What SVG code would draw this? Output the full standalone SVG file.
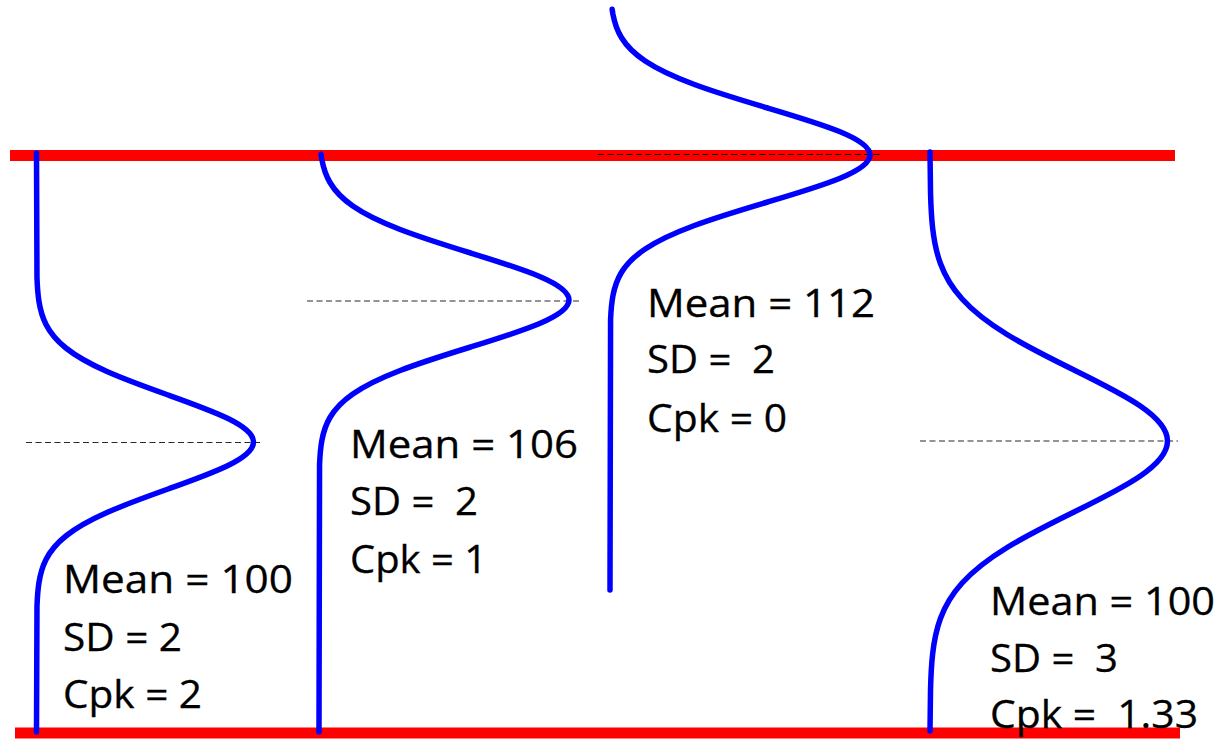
<svg xmlns="http://www.w3.org/2000/svg" width="1227" height="739" viewBox="0 0 1227 739">
<style>
.limit{stroke:#ff0000;stroke-width:11;fill:none}
.mean{stroke:#2a2a2a;stroke-width:1.2;stroke-dasharray:6 3.5;fill:none}
.dist{stroke:#0000ff;stroke-width:5.5;fill:none;stroke-linecap:round;stroke-linejoin:round;vector-effect:non-scaling-stroke}
.lbl{font-family:"Open Sans","Liberation Sans",sans-serif;font-size:38px;fill:#000;white-space:pre;stroke:#000;stroke-width:0.3}
</style>
<rect width="1227" height="739" fill="#fff"/>
<g id="limits">
<line class="limit" x1="10" y1="155.5" x2="1175" y2="155.5"/>
<line class="limit" x1="15" y1="733" x2="1180" y2="733"/>
</g>
<g id="connectors">
<line class="mean" x1="26" y1="442.5" x2="263" y2="442.5"/>
<line class="mean" x1="307" y1="301" x2="579" y2="301"/>
<line class="mean" x1="598" y1="154.5" x2="882" y2="154.5" style="stroke:#000"/>
<line class="mean" x1="920" y1="441" x2="1178" y2="441"/>
</g>
<g id="dist1">
<path class="dist" transform="translate(36.5,442) scale(217,47)" d="M0,-6.15 L0.0022,-3.5 C0.0035,-3.3333 0.0055,-3.1667 0.0111,-3 C0.0167,-2.8333 0.0256,-2.6667 0.0439,-2.5 C0.0622,-2.3333 0.0902,-2.1667 0.1353,-2 C0.1804,-1.8333 0.2435,-1.6667 0.3247,-1.5 C0.4059,-1.3333 0.5054,-1.1667 0.6065,-1 C0.7076,-0.8333 0.809,-0.6667 0.8825,-0.5 C0.956,-0.3333 1,-0.1667 1,0 C1,0.1667 0.956,0.3333 0.8825,0.5 C0.809,0.6667 0.7076,0.8333 0.6065,1 C0.5054,1.1667 0.4059,1.3333 0.3247,1.5 C0.2435,1.6667 0.1804,1.8333 0.1353,2 C0.0902,2.1667 0.0622,2.3333 0.0439,2.5 C0.0256,2.6667 0.0167,2.8333 0.0111,3 C0.0055,3.1667 0.0035,3.3333 0.0022,3.5 L0,6.17"/>
<text class="lbl" x="63" y="593" textLength="230" lengthAdjust="spacingAndGlyphs">Mean = 100</text>
<text class="lbl" x="63" y="651" textLength="119" lengthAdjust="spacingAndGlyphs">SD = 2</text>
<text class="lbl" x="63" y="708" textLength="139" lengthAdjust="spacingAndGlyphs">Cpk = 2</text>
</g>
<g id="dist2">
<path class="dist" transform="translate(319,300) scale(250,47)" d="M0.0082,-3.1 L0.0111,-3 C0.0167,-2.8333 0.0256,-2.6667 0.0439,-2.5 C0.0622,-2.3333 0.0902,-2.1667 0.1353,-2 C0.1804,-1.8333 0.2435,-1.6667 0.3247,-1.5 C0.4059,-1.3333 0.5054,-1.1667 0.6065,-1 C0.7076,-0.8333 0.809,-0.6667 0.8825,-0.5 C0.956,-0.3333 1,-0.1667 1,0 C1,0.1667 0.956,0.3333 0.8825,0.5 C0.809,0.6667 0.7076,0.8333 0.6065,1 C0.5054,1.1667 0.4059,1.3333 0.3247,1.5 C0.2435,1.6667 0.1804,1.8333 0.1353,2 C0.0902,2.1667 0.0622,2.3333 0.0439,2.5 C0.0256,2.6667 0.0167,2.8333 0.0111,3 C0.0055,3.1667 0.0035,3.3333 0.0022,3.5 L0,9.19"/>
<text class="lbl" x="350" y="458" textLength="228" lengthAdjust="spacingAndGlyphs">Mean = 106</text>
<text class="lbl" x="350" y="515" textLength="128" lengthAdjust="spacingAndGlyphs">SD =  2</text>
<text class="lbl" x="350" y="573" textLength="137" lengthAdjust="spacingAndGlyphs">Cpk = 1</text>
</g>
<g id="dist3">
<path class="dist" transform="translate(610,155) scale(260,47)" d="M0.0082,-3.1 L0.0111,-3 C0.0167,-2.8333 0.0256,-2.6667 0.0439,-2.5 C0.0622,-2.3333 0.0902,-2.1667 0.1353,-2 C0.1804,-1.8333 0.2435,-1.6667 0.3247,-1.5 C0.4059,-1.3333 0.5054,-1.1667 0.6065,-1 C0.7076,-0.8333 0.809,-0.6667 0.8825,-0.5 C0.956,-0.3333 1,-0.1667 1,0 C1,0.1667 0.956,0.3333 0.8825,0.5 C0.809,0.6667 0.7076,0.8333 0.6065,1 C0.5054,1.1667 0.4059,1.3333 0.3247,1.5 C0.2435,1.6667 0.1804,1.8333 0.1353,2 C0.0902,2.1667 0.0622,2.3333 0.0439,2.5 C0.0256,2.6667 0.0167,2.8333 0.0111,3 C0.0055,3.1667 0.0035,3.3333 0.0022,3.5 L0,9.255"/>
<text class="lbl" x="647" y="317" textLength="228" lengthAdjust="spacingAndGlyphs">Mean = 112</text>
<text class="lbl" x="647" y="373" textLength="128" lengthAdjust="spacingAndGlyphs">SD =  2</text>
<text class="lbl" x="647" y="432" textLength="140" lengthAdjust="spacingAndGlyphs">Cpk = 0</text>
</g>
<g id="dist4">
<path class="dist" transform="translate(930,441) scale(237.5,71)" d="M0,-4.07 L0.0022,-3.5 C0.0035,-3.3333 0.0055,-3.1667 0.0111,-3 C0.0167,-2.8333 0.0256,-2.6667 0.0439,-2.5 C0.0622,-2.3333 0.0902,-2.1667 0.1353,-2 C0.1804,-1.8333 0.2435,-1.6667 0.3247,-1.5 C0.4059,-1.3333 0.5054,-1.1667 0.6065,-1 C0.7076,-0.8333 0.809,-0.6667 0.8825,-0.5 C0.956,-0.3333 1,-0.1667 1,0 C1,0.1667 0.956,0.3333 0.8825,0.5 C0.809,0.6667 0.7076,0.8333 0.6065,1 C0.5054,1.1667 0.4059,1.3333 0.3247,1.5 C0.2435,1.6667 0.1804,1.8333 0.1353,2 C0.0902,2.1667 0.0622,2.3333 0.0439,2.5 C0.0256,2.6667 0.0167,2.8333 0.0111,3 C0.0055,3.1667 0.0035,3.3333 0.0022,3.5 L0,4.085"/>
<text class="lbl" x="990" y="615" textLength="225" lengthAdjust="spacingAndGlyphs">Mean = 100</text>
<text class="lbl" x="990" y="672" textLength="128" lengthAdjust="spacingAndGlyphs">SD =  3</text>
<text class="lbl" x="990" y="728" textLength="208" lengthAdjust="spacingAndGlyphs">Cpk =  1.33</text>
</g>
</svg>
